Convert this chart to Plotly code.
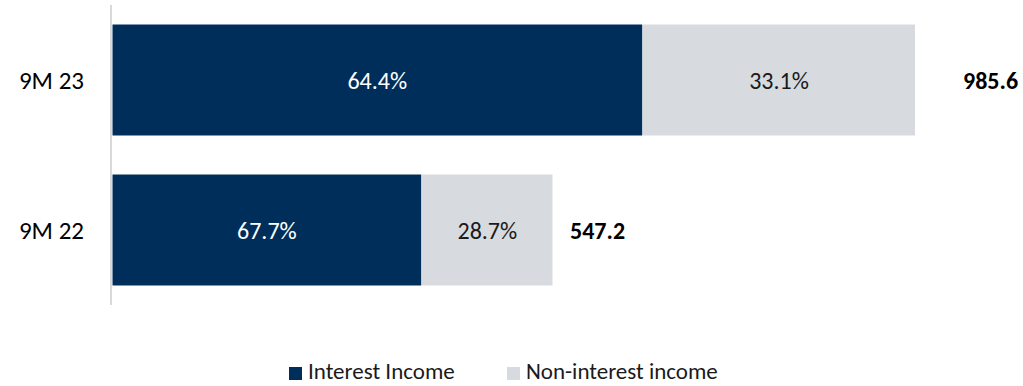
import plotly.graph_objects as go

# Data
periods = ["9M 22", "9M 23"]
totals = [547.2, 985.6]
interest_pct = [67.7, 64.4]
non_interest_pct = [28.7, 33.1]
series_names = ["Interest Income", "Non-interest income"]

# Segment lengths in absolute terms (share of total)
interest_val = [p * t / 100 for p, t in zip(interest_pct, totals)]
non_interest_val = [p * t / 100 for p, t in zip(non_interest_pct, totals)]

NAVY = "#002E5A"
LIGHT = "#D7DBDF"
FONT = "Carlito, Calibri, Lato, sans-serif"
W, H = 1023, 386
ML, MR, MT, MB = 112, 75, 5, 81

# horizontal pixel offset of each total label from the bar end
total_label_shift = [15, 46]

fig = go.Figure()
fig.add_trace(go.Bar(
    y=periods, x=interest_val, orientation="h", name=series_names[0],
    marker=dict(color=NAVY, line=dict(color="white", width=0.5)),
    text=[f"{v:.1f}%" for v in interest_pct], textposition="inside",
    insidetextanchor="middle", textfont=dict(color="white", size=24, family=FONT),
    hoverinfo="skip", showlegend=False,
))
fig.add_trace(go.Bar(
    y=periods, x=non_interest_val, orientation="h", name=series_names[1],
    marker=dict(color=LIGHT, line=dict(color="white", width=0.5)),
    text=[f"{v:.1f}%" for v in non_interest_pct], textposition="inside",
    insidetextanchor="middle", textfont=dict(color="#1a1a1a", size=24, family=FONT),
    hoverinfo="skip", showlegend=False,
))

for p, a, b, t, s in zip(periods, interest_val, non_interest_val, totals, total_label_shift):
    fig.add_annotation(
        x=a + b, y=p, text=f"<b>{t:.1f}</b>", showarrow=False,
        xanchor="left", yanchor="middle", xshift=s,
        font=dict(size=24, color="#000000", family=FONT),
    )

# Compact legend below the plot: colour square followed by its label
plot_w = W - ML - MR
plot_h = H - MT - MB


def px_x(px):
    return (px - ML) / plot_w


def px_y(py):
    return 1 - (py - MT) / plot_h


legend_items = [(series_names[0], NAVY, 289), (series_names[1], LIGHT, 507)]
for name, color, left in legend_items:
    fig.add_shape(
        type="rect", xref="paper", yref="paper",
        x0=px_x(left), x1=px_x(left + 13), y0=px_y(380), y1=px_y(367),
        fillcolor=color, line=dict(width=0),
    )
    fig.add_annotation(
        xref="paper", yref="paper", x=px_x(left + 18), y=px_y(371),
        text=name, showarrow=False, xanchor="left", yanchor="middle",
        borderpad=0,
        font=dict(size=23, color="#1a1a1a", family=FONT),
    )

fig.update_layout(
    barmode="stack",
    bargap=0.258,
    width=W, height=H,
    margin=dict(l=ML, r=MR, t=MT, b=MB),
    paper_bgcolor="white", plot_bgcolor="white",
    uniformtext=dict(mode="show", minsize=10),
    showlegend=False,
    xaxis=dict(range=[0, 1000], visible=False, fixedrange=True),
    yaxis=dict(
        categoryorder="array", categoryarray=periods, range=[-0.5, 1.5],
        showline=True, linecolor="#D9D9D9", linewidth=2,
        showgrid=False, zeroline=False, ticks="",
        ticklabelstandoff=21,
        tickfont=dict(size=25, color="#000000", family=FONT),
    ),
    font=dict(family=FONT),
)

fig.write_html("out.html")
